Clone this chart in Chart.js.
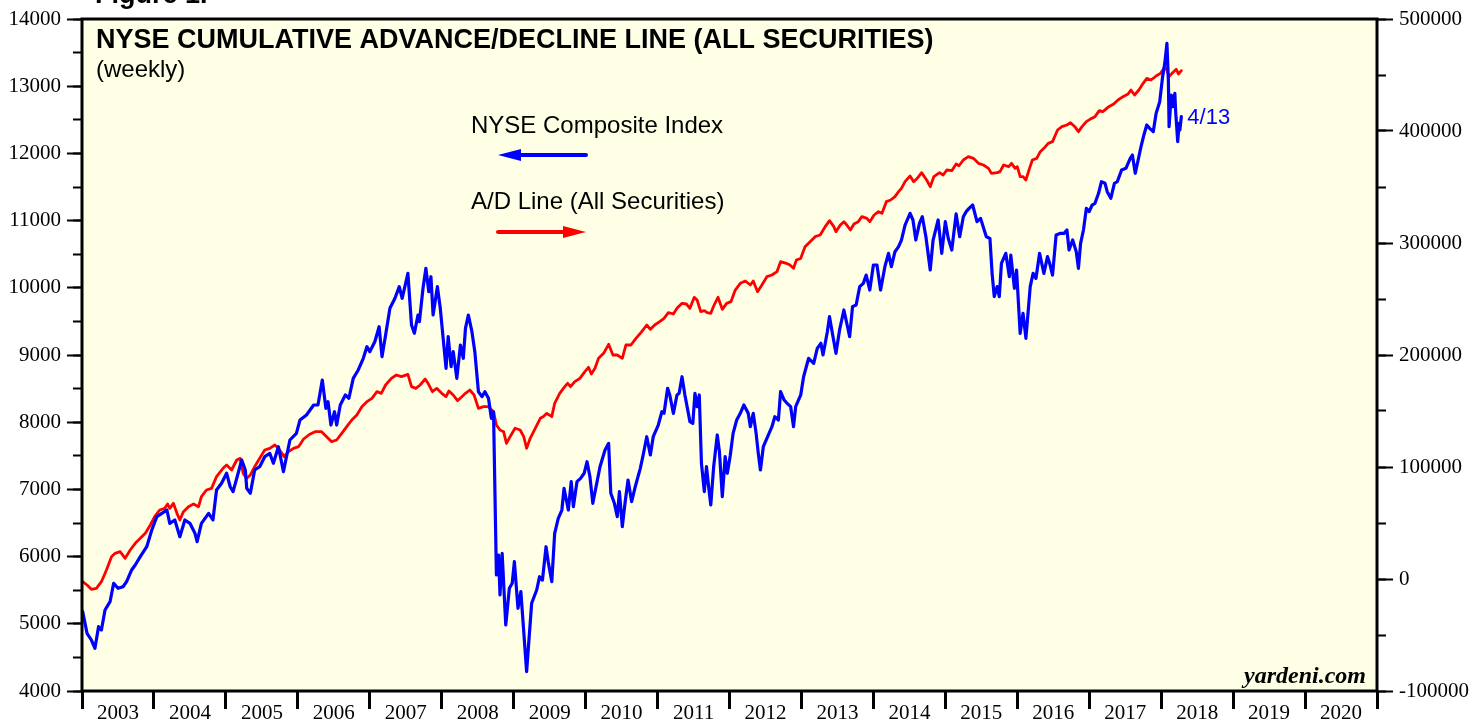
<!DOCTYPE html>
<html>
<head>
<meta charset="utf-8">
<title>NYSE Cumulative Advance/Decline Line</title>
<script src="https://cdn.jsdelivr.net/npm/chart.js@4/dist/chart.umd.min.js"></script>
<style>
  html, body { margin: 0; padding: 0; background: #fff; }
  #wrap { width: 1471px; height: 721px; }
</style>
</head>
<body>
<div id="wrap"><canvas id="chart" width="1471" height="721"></canvas></div>
<script>
// NYSE Composite Index -> eje izquierdo
const compYears = [
  2003.01, 2003.07, 2003.13, 2003.18, 2003.23, 2003.27, 2003.32, 2003.39, 2003.44, 2003.50, 2003.57, 2003.62, 2003.69, 2003.74, 2003.81, 2003.90, 2003.97,
  2004.04, 2004.11, 2004.18, 2004.22, 2004.29, 2004.36, 2004.43, 2004.50, 2004.57, 2004.60, 2004.66, 2004.76, 2004.82, 2004.87, 2004.94,
  2005.01, 2005.06, 2005.10, 2005.17, 2005.22, 2005.27, 2005.29, 2005.34, 2005.40, 2005.47, 2005.54, 2005.61, 2005.66, 2005.73, 2005.80, 2005.89, 2005.98,
  2006.03, 2006.12, 2006.22, 2006.28, 2006.34, 2006.39, 2006.42, 2006.46, 2006.51, 2006.54, 2006.59, 2006.66, 2006.71, 2006.77, 2006.84, 2006.91, 2006.96,
  2007.00, 2007.07, 2007.13, 2007.17, 2007.22, 2007.28, 2007.35, 2007.41, 2007.45, 2007.53, 2007.58, 2007.62, 2007.67, 2007.69, 2007.74, 2007.78, 2007.82, 2007.85, 2007.88, 2007.94, 2007.98,
  2008.02, 2008.06, 2008.09, 2008.13, 2008.16, 2008.21, 2008.26, 2008.30, 2008.33, 2008.37, 2008.42, 2008.46, 2008.51, 2008.56, 2008.60, 2008.65, 2008.69, 2008.72, 2008.76, 2008.79, 2008.81, 2008.84, 2008.89, 2008.94, 2008.98,
  2009.01, 2009.06, 2009.10, 2009.18, 2009.25, 2009.32, 2009.36, 2009.40, 2009.45, 2009.48, 2009.53, 2009.57, 2009.62, 2009.67, 2009.70, 2009.76, 2009.80, 2009.83, 2009.88, 2009.93, 2009.98,
  2010.02, 2010.06, 2010.10, 2010.15, 2010.20, 2010.27, 2010.32, 2010.35, 2010.40, 2010.44, 2010.47, 2010.51, 2010.55, 2010.59, 2010.64, 2010.69, 2010.76, 2010.80, 2010.85, 2010.90, 2010.94,
  2011.01, 2011.06, 2011.09, 2011.14, 2011.17, 2011.22, 2011.27, 2011.30, 2011.34, 2011.38, 2011.45, 2011.49, 2011.52, 2011.55, 2011.58, 2011.61, 2011.65, 2011.68, 2011.71, 2011.74, 2011.78, 2011.83, 2011.86, 2011.90, 2011.94, 2011.97,
  2012.01, 2012.05, 2012.10, 2012.15, 2012.20, 2012.26, 2012.29, 2012.33, 2012.37, 2012.40, 2012.43, 2012.47, 2012.52, 2012.59, 2012.63, 2012.68, 2012.71, 2012.76, 2012.80, 2012.85, 2012.89, 2012.92, 2012.99,
  2013.03, 2013.10, 2013.17, 2013.22, 2013.27, 2013.30, 2013.36, 2013.39, 2013.43, 2013.48, 2013.53, 2013.59, 2013.63, 2013.67, 2013.71, 2013.76, 2013.81, 2013.86, 2013.90, 2013.95,
  2014.00, 2014.05, 2014.10, 2014.16, 2014.21, 2014.25, 2014.30, 2014.35, 2014.39, 2014.44, 2014.51, 2014.55, 2014.59, 2014.64, 2014.68, 2014.73, 2014.79, 2014.83, 2014.90, 2014.95,
  2015.00, 2015.04, 2015.09, 2015.15, 2015.20, 2015.25, 2015.29, 2015.33, 2015.38, 2015.44, 2015.49, 2015.54, 2015.57, 2015.62, 2015.65, 2015.68, 2015.72, 2015.75, 2015.78, 2015.84, 2015.89, 2015.91, 2015.96, 2015.99,
  2016.04, 2016.08, 2016.12, 2016.18, 2016.22, 2016.26, 2016.31, 2016.34, 2016.37, 2016.42, 2016.45, 2016.49, 2016.54, 2016.60, 2016.65, 2016.69, 2016.72, 2016.77, 2016.82, 2016.85, 2016.88, 2016.92, 2016.96,
  2017.00, 2017.04, 2017.08, 2017.13, 2017.17, 2017.22, 2017.25, 2017.30, 2017.35, 2017.39, 2017.45, 2017.51, 2017.57, 2017.60, 2017.64, 2017.68, 2017.72, 2017.76, 2017.80, 2017.84, 2017.89, 2017.93, 2017.98,
  2018.02, 2018.05, 2018.08, 2018.10, 2018.11, 2018.14, 2018.16, 2018.19, 2018.20, 2018.23, 2018.25, 2018.26, 2018.28
]
const compValues = [
  5180, 4859, 4759, 4635, 4957, 4908, 5205, 5329, 5603, 5528, 5552, 5627, 5801, 5875, 5999, 6147, 6396,
  6594, 6644, 6693, 6495, 6545, 6296, 6545, 6495, 6347, 6222, 6495, 6644, 6545, 6991, 7091,
  7240, 7040, 6966, 7240, 7437, 7289, 7016, 6942, 7289, 7338, 7487, 7536, 7388, 7635, 7264, 7735, 7834,
  8033, 8107, 8256, 8256, 8628, 8207, 8305, 7958, 8156, 7958, 8256, 8405, 8356, 8653, 8777, 8951, 9124,
  9049, 9198, 9421, 8975, 9298, 9695, 9844, 10017, 9844, 10216, 9446, 9323, 9595, 9496, 9993, 10290, 9942, 10165, 9595, 10017, 9695,
  9248, 8802, 9273, 8826, 9049, 8653, 9149, 8951, 9397, 9595, 9347, 9049, 8454, 8380, 8454, 8356, 8058, 8156, 5726, 6024, 5429, 6049, 4982, 5528, 5603,
  5924, 5231, 5478, 4288, 5305, 5503, 5701, 5650, 6147, 5924, 5627, 6347, 6570, 6693, 7016, 6693, 7115, 6743, 7115, 7165, 7240,
  7412, 7189, 6793, 7066, 7338, 7586, 7685, 6942, 6793, 6594, 6966, 6445, 6817, 7140, 6817, 7040, 7313, 7512, 7784, 7512, 7784,
  7958, 8156, 8132, 8504, 8405, 8132, 8405, 8430, 8677, 8405, 8008, 7983, 8430, 8231, 8405, 7388, 6966, 7338, 7040, 6768, 7338, 7810, 7561, 6892, 7487, 7240,
  7500, 7834, 8033, 8132, 8256, 8132, 7933, 8132, 7834, 7537, 7289, 7635, 7760, 7933, 8082, 8033, 8454, 8330, 8281, 8231, 7933, 8231, 8405,
  8677, 8951, 8876, 9099, 9174, 9000, 9347, 9570, 9323, 9025, 9372, 9670, 9472, 9273, 9720, 9744, 10017, 10066, 10190, 9967,
  10339, 10339, 9967, 10314, 10513, 10314, 10537, 10612, 10711, 10934, 11108, 11009, 10711, 10959, 11058, 10760, 10265, 10711, 11009, 10513,
  10984, 10736, 10562, 11100, 10760, 11058, 11133, 11182, 11232, 10984, 11033, 10860, 10760, 10736, 10215, 9868, 10017, 9868, 10364, 10513, 10165, 10488, 9992, 10265,
  9323, 9620, 9248, 10017, 10215, 10141, 10513, 10364, 10215, 10463, 10364, 10190, 10786, 10810, 10810, 10860, 10562, 10711, 10537, 10290, 10662, 10860, 11182,
  11133, 11232, 11257, 11406, 11579, 11555, 11430, 11331, 11555, 11579, 11753, 11778, 11927, 11976, 11704, 11902, 12100, 12274, 12423, 12373, 12323, 12596, 12770,
  13142, 13340, 13638, 13092, 12397, 12869, 12695, 12893, 12646, 12174, 12447, 12348, 12546
]

// Linea A/D (todas las emisiones) -> eje derecho
const adYears = [
  2003.01, 2003.07, 2003.13, 2003.20, 2003.27, 2003.34, 2003.41, 2003.46, 2003.53, 2003.60, 2003.67, 2003.74, 2003.81, 2003.88, 2003.95,
  2004.01, 2004.08, 2004.15, 2004.19, 2004.22, 2004.27, 2004.32, 2004.36, 2004.41, 2004.48, 2004.55, 2004.62, 2004.66, 2004.73, 2004.80, 2004.87, 2004.96,
  2005.01, 2005.08, 2005.15, 2005.20, 2005.24, 2005.29, 2005.34, 2005.40, 2005.47, 2005.54, 2005.61, 2005.68, 2005.73, 2005.81, 2005.87, 2005.94,
  2006.01, 2006.08, 2006.16, 2006.24, 2006.33, 2006.40, 2006.47, 2006.54, 2006.61, 2006.68, 2006.75, 2006.82, 2006.89, 2006.96,
  2007.03, 2007.10, 2007.16, 2007.22, 2007.30, 2007.37, 2007.44, 2007.53, 2007.58, 2007.64, 2007.70, 2007.77, 2007.81, 2007.87, 2007.93,
  2008.00, 2008.06, 2008.10, 2008.16, 2008.22, 2008.28, 2008.33, 2008.39, 2008.45, 2008.51, 2008.58, 2008.65, 2008.72, 2008.76, 2008.81, 2008.86, 2008.90, 2008.95,
  2009.02, 2009.09, 2009.14, 2009.18, 2009.23, 2009.30, 2009.37, 2009.41, 2009.46, 2009.53, 2009.57, 2009.64, 2009.71, 2009.75, 2009.79, 2009.85, 2009.92, 2009.99,
  2010.04, 2010.08, 2010.13, 2010.18, 2010.25, 2010.32, 2010.38, 2010.44, 2010.51, 2010.56, 2010.63, 2010.70, 2010.78, 2010.85, 2010.90, 2010.96,
  2011.03, 2011.09, 2011.15, 2011.22, 2011.27, 2011.34, 2011.40, 2011.45, 2011.51, 2011.55, 2011.60, 2011.65, 2011.69, 2011.74, 2011.78, 2011.84, 2011.90, 2011.96,
  2012.02, 2012.08, 2012.15, 2012.22, 2012.29, 2012.33, 2012.39, 2012.45, 2012.52, 2012.59, 2012.66, 2012.71, 2012.79, 2012.84, 2012.89, 2012.93, 2012.99,
  2013.05, 2013.12, 2013.19, 2013.26, 2013.33, 2013.39, 2013.45, 2013.48, 2013.54, 2013.59, 2013.63, 2013.68, 2013.73, 2013.79, 2013.84, 2013.91, 2013.95,
  2014.01, 2014.07, 2014.12, 2014.18, 2014.24, 2014.30, 2014.35, 2014.39, 2014.44, 2014.51, 2014.56, 2014.61, 2014.67, 2014.74, 2014.79, 2014.84, 2014.92, 2014.97,
  2015.02, 2015.09, 2015.15, 2015.19, 2015.25, 2015.32, 2015.39, 2015.46, 2015.53, 2015.60, 2015.64, 2015.72, 2015.76, 2015.81, 2015.88, 2015.92, 2015.97,
  2016.00, 2016.04, 2016.08, 2016.12, 2016.17, 2016.21, 2016.27, 2016.32, 2016.37, 2016.43, 2016.49, 2016.56, 2016.62, 2016.69, 2016.74, 2016.80, 2016.85, 2016.90, 2016.96,
  2017.01, 2017.08, 2017.14, 2017.19, 2017.26, 2017.34, 2017.40, 2017.47, 2017.54, 2017.58, 2017.63, 2017.69, 2017.75, 2017.80, 2017.86, 2017.93, 2017.99,
  2018.05, 2018.08, 2018.11, 2018.16, 2018.21, 2018.24, 2018.28
]
const adValues = [
  -2411, -5357, -9226, -8333, -2411, 8036, 19940, 22917, 24405, 18452, 25893, 31845, 36310, 40774, 48214,
  55655, 61607, 63095, 66964, 63095, 67560, 58631, 52679, 60119, 64583, 66964, 64583, 73512, 79464, 80952, 91369, 98810,
  101786, 97321, 106250, 107738, 94345, 89881, 92857, 100298, 107738, 115179, 116667, 119643, 116667, 109226, 113690, 116667,
  118155, 125000, 129000, 131548, 131548, 127083, 122619, 124107, 130060, 136012, 141964, 146429, 153869, 158333,
  161310, 167262, 165774, 173214, 179167, 182143, 180655, 182738, 171726, 170238, 173214, 178571, 174702, 167262, 170238,
  165774, 162798, 167857, 164286, 159226, 162798, 165774, 168750, 164286, 152381, 153869, 153869, 149405, 137500, 133036, 131548, 121131, 127083,
  134583, 133036, 127083, 116667, 125625, 134583, 143452, 144940, 147917, 144940, 156845, 165774, 171726, 174702, 171726, 176190, 179167, 185119,
  189048, 183036, 188095, 197024, 201488, 209524, 200000, 200000, 197024, 208929, 208929, 214881, 220833, 226786, 222917, 226786,
  229762, 232738, 237798, 236607, 241667, 246131, 245536, 241667, 251488, 249107, 238690, 239583, 237798, 237202, 243750, 251488, 240774, 246131,
  247619, 258000, 264000, 266071, 262500, 266071, 256548, 262500, 269940, 271429, 274405, 283333, 281845, 280357, 277381, 284821, 286310,
  296726, 301190, 305655, 307143, 314583, 319940, 314583, 310119, 316071, 319048, 316071, 311607, 316964, 319048, 323512, 322024, 319048,
  325000, 327976, 326488, 336905, 338393, 341369, 345833, 348810, 354762, 359821, 354762, 357738, 362798, 356250, 350298, 359226, 362798, 360714,
  365179, 364583, 370536, 369000, 374107, 377083, 375595, 371131, 369643, 366667, 362202, 362798, 363690, 369643, 368155, 371131, 366667,
  368155, 359226, 359226, 356250, 366667, 374107, 375595, 381548, 384524, 388988, 390476, 400893, 403869, 405357, 407440, 403869, 399405, 403869, 408333,
  410417, 412798, 418155, 417262, 421131, 424107, 427679, 430655, 433036, 436607, 432143, 436607, 442560, 447024, 445536, 449107, 451488,
  456845, 454464, 448512, 452083, 455060, 450893, 453869
]

// Ejes y etiquetas
const yearStart = 2003
const yearEnd = 2021
const leftMin = 4000
const leftMax = 14000
const rightMin = -100000
const rightMax = 500000
const lastDateLabel = "4/13"

const colors = {
  composite: "#0000FF",
  adLine: "#FF0000",
  plotBg: "#FFFFE6",
  ink: "#000000",
}

const serif = "'Liberation Serif', 'DejaVu Serif', serif"
const sans = "'Liberation Sans', Arial, sans-serif"
const tickFont = { family: serif, size: 21 }

// Fondo amarillo y marco del area de trazado, mas los textos
const decorPlugin = {
  id: "decor",
  beforeDraw(chart) {
    const { ctx, chartArea: a } = chart
    ctx.save()
    ctx.fillStyle = "#fff"
    ctx.fillRect(0, 0, chart.width, chart.height)
    ctx.fillStyle = colors.plotBg
    ctx.fillRect(a.left, a.top, a.right - a.left, a.bottom - a.top)
    ctx.restore()
  },
  afterDraw(chart) {
    const { ctx, chartArea: a } = chart
    ctx.save()

    // marco
    ctx.strokeStyle = colors.ink
    ctx.lineWidth = 3
    ctx.strokeRect(a.left, a.top, a.right - a.left, a.bottom - a.top)

    // "Figure 1." cortado arriba
    ctx.fillStyle = colors.ink
    ctx.textBaseline = "alphabetic"
    ctx.textAlign = "left"
    ctx.font = "bold 27px " + sans
    ctx.fillText("Figure 1.", 95, 3)

    // titulo
    ctx.font = "bold 27px " + sans
    ctx.textBaseline = "middle"
    ctx.fillText("NYSE CUMULATIVE ADVANCE/DECLINE LINE (ALL SECURITIES)", a.left + 14, a.top + 22)
    ctx.font = "24px " + sans
    ctx.fillText("(weekly)", a.left + 14, a.top + 51)

    // leyenda con flechas
    ctx.font = "24px " + sans
    ctx.fillText("NYSE Composite Index", 471, 126)
    ctx.fillText("A/D Line (All Securities)", 471, 202)
    drawArrow(ctx, 586, 498, 155, colors.composite)
    drawArrow(ctx, 498, 586, 232, colors.adLine)

    // fecha del ultimo dato
    const xs = chart.scales.x
    const yl = chart.scales.y
    const lastX = xs.getPixelForValue(compYears[compYears.length - 1])
    const lastY = yl.getPixelForValue(compValues[compValues.length - 1])
    ctx.fillStyle = colors.composite
    ctx.font = "22px " + sans
    ctx.fillText(lastDateLabel, lastX + 6, lastY + 1)

    // fuente
    ctx.fillStyle = colors.ink
    ctx.font = "italic bold 24px " + serif
    ctx.textAlign = "right"
    ctx.textBaseline = "alphabetic"
    ctx.fillText("yardeni.com", a.right - 11, a.bottom - 8)

    ctx.restore()
  },
}

function drawArrow(ctx, fromX, toX, y, color) {
  const dir = toX > fromX ? 1 : -1
  const headLen = 23
  ctx.save()
  ctx.strokeStyle = color
  ctx.fillStyle = color
  ctx.lineWidth = 4
  ctx.lineCap = "round"
  ctx.beginPath()
  ctx.moveTo(fromX, y)
  ctx.lineTo(toX - dir * (headLen - 2), y)
  ctx.stroke()
  ctx.beginPath()
  ctx.moveTo(toX, y)
  ctx.lineTo(toX - dir * headLen, y - 6)
  ctx.lineTo(toX - dir * headLen, y + 6)
  ctx.closePath()
  ctx.fill()
  ctx.restore()
}

function fixWidth(w) {
  return (scale) => { scale.width = w }
}

const ctx = document.getElementById("chart").getContext("2d")

new Chart(ctx, {
  type: "line",
  data: {
    datasets: [
      {
        label: "NYSE Composite Index",
        data: compYears.map((yr, i) => ({ x: yr, y: compValues[i] })),
        borderColor: colors.composite,
        borderWidth: 3.2,
        yAxisID: "y",
      },
      {
        label: "A/D Line (All Securities)",
        data: adYears.map((yr, i) => ({ x: yr, y: adValues[i] })),
        borderColor: colors.adLine,
        borderWidth: 2.8,
        yAxisID: "y1",
      },
    ],
  },
  options: {
    responsive: false,
    animation: false,
    devicePixelRatio: 1,
    layout: { padding: { top: 19, left: 0, right: 0, bottom: 0 } },
    elements: {
      point: { radius: 0 },
      line: { tension: 0, borderJoinStyle: "round", borderCapStyle: "round" },
    },
    plugins: {
      legend: { display: false },
      tooltip: { enabled: false },
    },
    scales: {
      x: {
        type: "linear",
        min: yearStart,
        max: yearEnd,
        afterFit: (scale) => { scale.height = 30 },
        border: { display: false },
        grid: {
          drawOnChartArea: false,
          drawTicks: true,
          tickLength: 18,
          tickWidth: 3,
          tickColor: colors.ink,
        },
        ticks: {
          stepSize: 1,
          autoSkip: false,
          maxRotation: 0,
          labelOffset: 36,
          padding: -8,
          color: colors.ink,
          font: tickFont,
          callback: (v) => (v < yearEnd ? String(v) : ""),
        },
      },
      y: {
        position: "left",
        weight: 1,
        min: leftMin,
        max: leftMax,
        afterFit: fixWidth(82),
        border: { display: false },
        grid: { drawOnChartArea: false, tickLength: 15, tickWidth: 2, tickColor: colors.ink },
        ticks: { stepSize: 1000, padding: 6, color: colors.ink, font: tickFont, callback: (v) => String(v) },
      },
      yMinor: {
        position: "left",
        weight: 0,
        min: leftMin,
        max: leftMax,
        afterFit: fixWidth(0),
        border: { display: false },
        grid: { drawOnChartArea: false, tickLength: 9, tickWidth: 2, tickColor: colors.ink },
        ticks: { stepSize: 500, display: false },
      },
      y1: {
        position: "right",
        weight: 1,
        min: rightMin,
        max: rightMax,
        afterFit: fixWidth(94),
        border: { display: false },
        grid: { drawOnChartArea: false, tickLength: 16, tickWidth: 2, tickColor: colors.ink },
        ticks: { stepSize: 100000, padding: 6, color: colors.ink, font: tickFont, callback: (v) => String(v) },
      },
      y1Minor: {
        position: "right",
        weight: 0,
        min: rightMin,
        max: rightMax,
        afterFit: fixWidth(0),
        border: { display: false },
        grid: { drawOnChartArea: false, tickLength: 9, tickWidth: 2, tickColor: colors.ink },
        ticks: { stepSize: 50000, display: false },
      },
    },
  },
  plugins: [decorPlugin],
})
</script>
</body>
</html>
